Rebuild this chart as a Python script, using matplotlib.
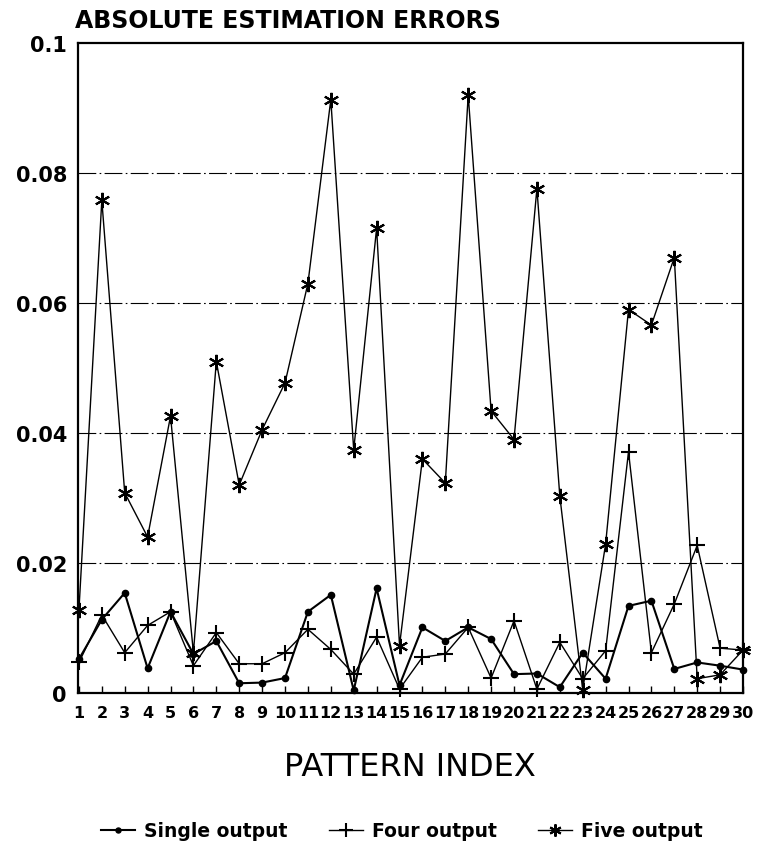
import matplotlib
matplotlib.use('Agg')
import matplotlib.pyplot as plt
import numpy as np

# data
pattern_index = list(range(1, 31))

single_output = [0.0052, 0.0113, 0.0154, 0.0038, 0.0125, 0.0060, 0.0080, 0.0015, 0.0016, 0.0023,
                 0.0125, 0.0151, 0.0004, 0.0161, 0.0012, 0.0101, 0.0080, 0.0101, 0.0083, 0.0029,
                 0.0030, 0.0009, 0.0062, 0.0022, 0.0134, 0.0142, 0.0037, 0.0047, 0.0042, 0.0036]

four_output = [0.0047, 0.0120, 0.0062, 0.0104, 0.0125, 0.0042, 0.0093, 0.0045, 0.0045, 0.0062,
               0.0098, 0.0067, 0.0029, 0.0086, 0.0006, 0.0055, 0.0060, 0.0101, 0.0023, 0.0111,
               0.0006, 0.0078, 0.0022, 0.0065, 0.0371, 0.0062, 0.0137, 0.0227, 0.0069, 0.0066]

five_output = [0.0127, 0.0758, 0.0308, 0.0240, 0.0426, 0.0062, 0.0510, 0.0320, 0.0405, 0.0477,
               0.0630, 0.0913, 0.0374, 0.0715, 0.0073, 0.0360, 0.0323, 0.0920, 0.0434, 0.0390,
               0.0776, 0.0303, 0.0005, 0.0229, 0.0590, 0.0566, 0.0670, 0.0022, 0.0028, 0.0066]

y_ticks = [0, 0.02, 0.04, 0.06, 0.08, 0.1]
y_tick_labels = ['0', '0.02', '0.04', '0.06', '0.08', '0.1']
legend_labels = ['Single output', 'Four output', 'Five output']

W, H = 759, 854
fig = plt.figure(figsize=(W / 100, H / 100), dpi=100)
ax = fig.add_axes([78 / W, 1 - 694 / H, (743 - 78) / W, (694 - 44) / H])

# dash-dot grid lines
for yv in y_ticks[1:-1]:
    ax.axhline(yv, color='k', lw=0.8, ls=(0, (16, 3, 1.5, 3)), zorder=1)

asterisk = (6, 2, 0)
ax.plot(pattern_index, single_output, '-', color='k', lw=1.5, marker='o', ms=4.5,
        clip_on=False, zorder=3, label=legend_labels[0])
ax.plot(pattern_index, four_output, '-', color='k', lw=1.0, marker='+', ms=12, mew=1.5,
        clip_on=False, zorder=3, label=legend_labels[1])
ax.plot(pattern_index, five_output, '-', color='k', lw=1.0, marker=asterisk, ms=11, mew=1.5,
        clip_on=False, zorder=3, label=legend_labels[2])

ax.set_xlim(0.96, 30.0)
ax.set_ylim(0, 0.1)
ax.set_xticks(pattern_index)
ax.set_xticklabels([str(i) for i in pattern_index], fontsize=11.5, fontweight='bold')
ax.set_yticks(y_ticks)
ax.set_yticklabels(y_tick_labels, fontsize=15, fontweight='bold')
ax.tick_params(axis='x', direction='in', length=5, width=1, pad=9)
ax.tick_params(axis='y', length=0, pad=8)
for s in ax.spines.values():
    s.set_linewidth(1.6)

fig.text(75 / W, 1 - 21 / H, 'ABSOLUTE ESTIMATION ERRORS', fontsize=17, fontweight='bold',
         ha='left', va='center')
fig.text(410 / W, 1 - 768 / H, 'PATTERN INDEX', fontsize=23, ha='center', va='center')

fig.legend(loc='center', bbox_to_anchor=(402 / W, 1 - 832 / H), ncol=3, frameon=False,
           prop={'size': 13.5, 'weight': 'bold'}, handlelength=1.8, handletextpad=0.5,
           columnspacing=2.2, markerscale=0.8)

fig.savefig('out.png', dpi=100)
